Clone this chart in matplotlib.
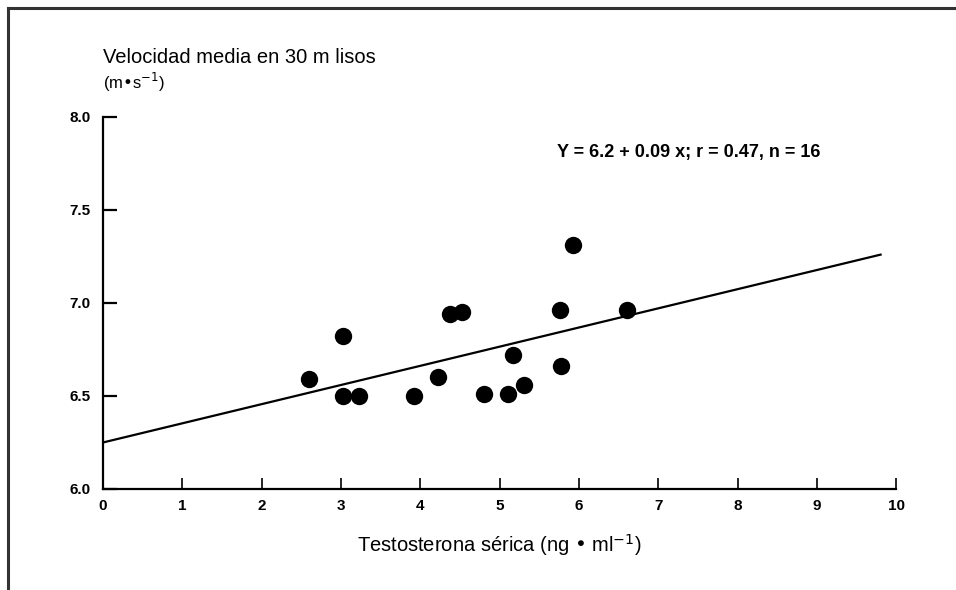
import matplotlib.pyplot as plt
from matplotlib.lines import Line2D

plt.rcParams['font.family'] = ['Liberation Sans', 'DejaVu Sans']

# data
testo = [2.60, 3.03, 3.02, 3.23, 3.92, 4.22, 4.37, 4.52,
         4.80, 5.11, 5.30, 5.17, 5.76, 5.77, 5.92, 6.61]
veloc = [6.59, 6.82, 6.50, 6.50, 6.50, 6.60, 6.94, 6.95,
         6.51, 6.51, 6.56, 6.72, 6.96, 6.66, 7.31, 6.96]
fit_x = [0.0, 9.8]
fit_y = [6.25, 7.26]
xticks = [0, 1, 2, 3, 4, 5, 6, 7, 8, 9, 10]
yticks = [6.0, 6.5, 7.0, 7.5, 8.0]
ylabels = ['6.0', '6.5', '7.0', '7.5', '8.0']

fig = plt.figure(figsize=(9.56, 5.90), dpi=100)
ax = fig.add_axes([0.1077, 0.1712, 0.830, 0.6305])

ax.plot(fit_x, fit_y, color='black', lw=1.6)
ax.plot(testo, veloc, 'o', color='black', markersize=12.5, markeredgewidth=0)

ax.set_xlim(0, 10)
ax.set_ylim(6.0, 8.0)
ax.set_xticks(xticks)
ax.set_yticks(yticks)
ax.set_yticklabels(ylabels)
ax.spines['top'].set_visible(False)
ax.spines['right'].set_visible(False)
for s in ['left', 'bottom']:
    ax.spines[s].set_linewidth(1.6)
ax.tick_params(axis='y', direction='in', length=10, width=1.6, pad=9,
               labelsize=11)
ax.tick_params(axis='x', direction='in', length=8, width=1.2, pad=7,
               labelsize=11)
for lab in ax.get_xticklabels() + ax.get_yticklabels():
    lab.set_fontweight('bold')

ax.set_xlabel('Testosterona sérica (ng • ml$^{-1}$)', fontsize=14.5, labelpad=14)
fig.text(0.1077, 0.902, 'Velocidad media en 30 m lisos', fontsize=14.5,
         va='center', ha='left')
fig.text(0.1077, 0.860, '(m•s$^{-1}$)', fontsize=12, va='center', ha='left')
ax.text(7.38, 7.81, 'Y = 6.2 + 0.09 x; r = 0.47, n = 16', fontsize=13,
        fontweight='bold', ha='center', va='center')

# frame of the scanned figure
fig.add_artist(Line2D([0.008, 1.0], [0.987, 0.987], color='#333333', lw=2.2,
                      transform=fig.transFigure))
fig.add_artist(Line2D([0.008, 0.008], [0.0, 0.987], color='#333333', lw=2.2,
                      transform=fig.transFigure))

fig.savefig('out.png', dpi=100)
